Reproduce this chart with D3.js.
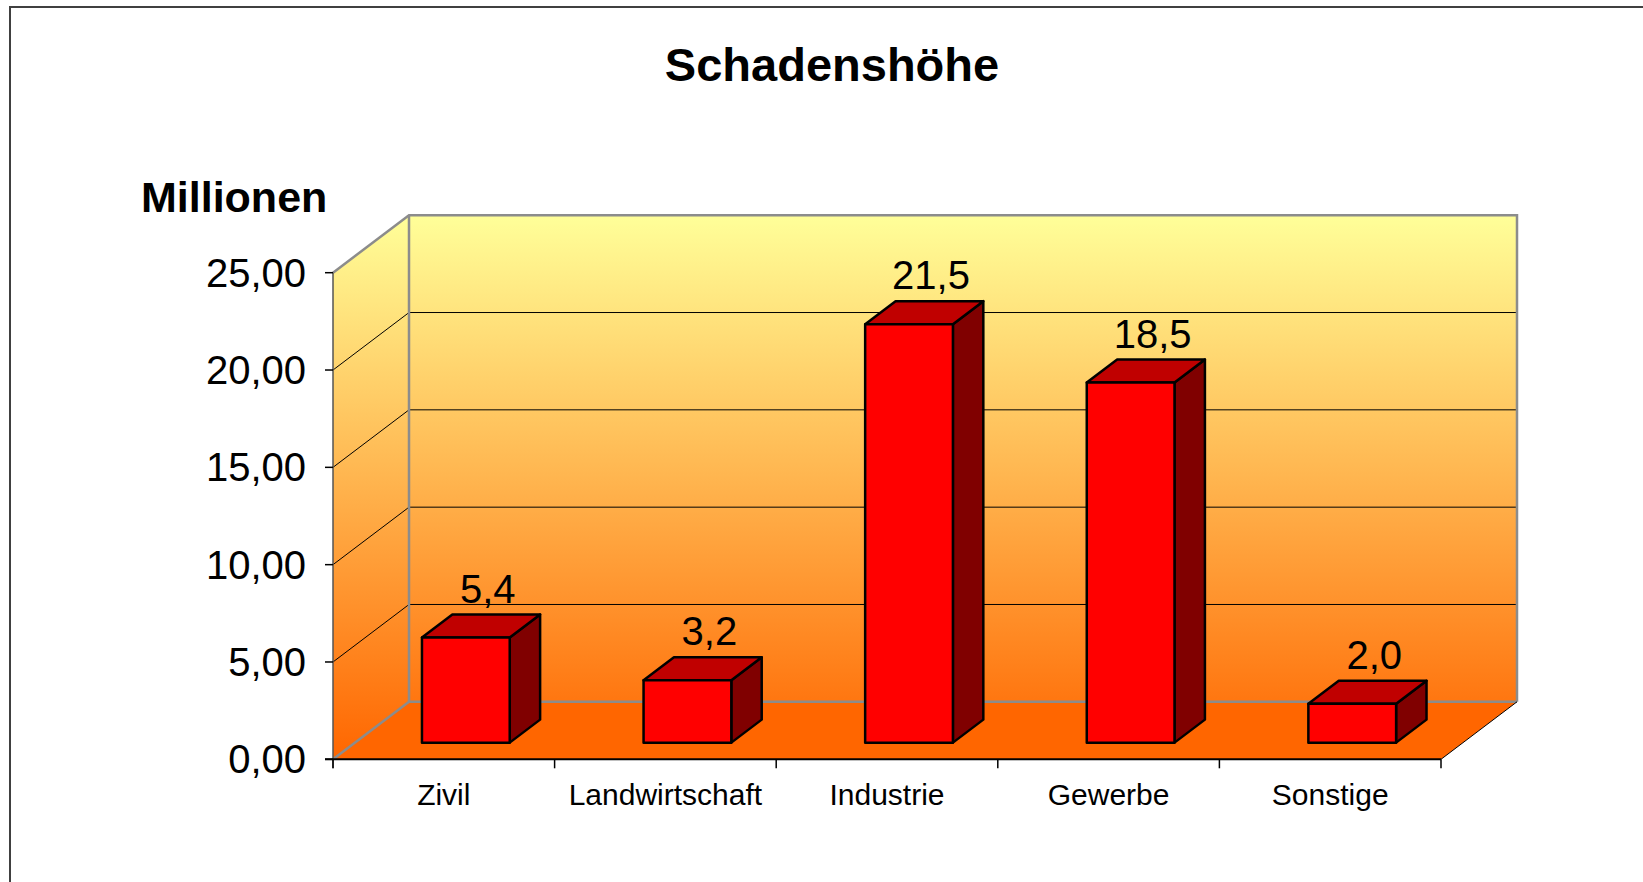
<!DOCTYPE html>
<html>
<head>
<meta charset="utf-8">
<script src="https://cdn.jsdelivr.net/npm/d3@7"></script>
<style>
  body { margin: 0; background: #fff; }
  text { font-family: Arial, "Liberation Sans", sans-serif; fill: #000; }
</style>
</head>
<body>
<svg id="chart" width="1643" height="882"></svg>
<script>
const categories = ['Zivil', 'Landwirtschaft', 'Industrie', 'Gewerbe', 'Sonstige'];
const values = [5.4, 3.2, 21.5, 18.5, 2.0];
const yTicks = [0, 5, 10, 15, 20, 25];
const title = 'Schadenshöhe';
const yTitle = 'Millionen';

const width = 1643;
const height = 882;
const plot = { left: 333, right: 1441, top: 272.7, bottom: 759.3 };
// 3d depth offset of the back wall
const DX = 76, DY = -57.5;
const barZ0 = 0.29, barZ1 = 0.69;
const barFrac = 0.396;

const de = d3.formatLocale({ decimal: ',', thousands: '.', grouping: [3], currency: ['', ' €'] });
const fmtTick = de.format('.2f');
const fmtVal = de.format('.1f');

const svg = d3.select('#chart');

const x = d3.scaleBand()
  .domain(categories)
  .range([plot.left, plot.right])
  .padding(0);

const y = d3.scaleLinear()
  .domain([0, 25])
  .range([plot.bottom, plot.top]);

const proj = (px, py, z) => [px + z * DX, py + z * DY];
const poly = pts => 'M' + pts.map(p => p.join(',')).join('L') + 'Z';

// gradient for walls
const defs = svg.append('defs');
const grad = defs.append('linearGradient')
  .attr('id', 'wall')
  .attr('gradientUnits', 'userSpaceOnUse')
  .attr('x1', 0).attr('x2', 0)
  .attr('y1', proj(0, y(25), 1)[1]).attr('y2', y(0));
grad.append('stop').attr('offset', '0%').attr('stop-color', '#FFFF99');
grad.append('stop').attr('offset', '100%').attr('stop-color', '#FF6600');

// outer frame
svg.append('path')
  .attr('d', `M10,${height} L10,7 L${width},7`)
  .attr('fill', 'none')
  .attr('stroke', '#404040')
  .attr('stroke-width', 2);

// title
svg.append('text')
  .attr('x', 832)
  .attr('y', 81)
  .attr('text-anchor', 'middle')
  .style('font-size', '47px')
  .style('font-weight', 'bold')
  .text(title);

svg.append('text')
  .attr('x', 141)
  .attr('y', 212)
  .style('font-size', '43px')
  .style('font-weight', 'bold')
  .text(yTitle);

// walls
const g = svg.append('g');
const y0 = y(0), y25 = y(25);

g.append('path')
  .attr('d', poly([proj(plot.left, y25, 1), proj(plot.right, y25, 1), proj(plot.right, y0, 1), proj(plot.left, y0, 1)]))
  .attr('fill', 'url(#wall)');

g.append('path')
  .attr('d', poly([proj(plot.left, y25, 0), proj(plot.left, y25, 1), proj(plot.left, y0, 1), proj(plot.left, y0, 0)]))
  .attr('fill', 'url(#wall)');

// gridlines
yTicks.filter(t => t > 0 && t < 25).forEach(t => {
  const a = proj(plot.left, y(t), 0);
  const b = proj(plot.left, y(t), 1);
  const c = proj(plot.right, y(t), 1);
  g.append('path')
    .attr('d', `M${a}L${b}L${c}`)
    .attr('fill', 'none')
    .attr('stroke', '#000')
    .attr('stroke-width', 1);
});

// floor
g.append('path')
  .attr('d', poly([proj(plot.left, y0, 0), proj(plot.left, y0, 1), proj(plot.right, y0, 1), proj(plot.right, y0, 0)]))
  .attr('fill', '#FF6600');

// wall edges (gray)
const edge = '#8C8C8C';
[
  [proj(plot.left, y25, 0), proj(plot.left, y25, 1), proj(plot.right, y25, 1), proj(plot.right, y0, 1)],
  [proj(plot.left, y25, 1), proj(plot.left, y0, 1)],
  [proj(plot.left, y0, 0), proj(plot.left, y0, 1), proj(plot.right, y0, 1)]
].forEach(pts => {
  g.append('path')
    .attr('d', 'M' + pts.map(p => p.join(',')).join('L'))
    .attr('fill', 'none')
    .attr('stroke', edge)
    .attr('stroke-width', 2.5);
});

// floor right edge
g.append('path')
  .attr('d', `M${proj(plot.right, y0, 0)}L${proj(plot.right, y0, 1)}`)
  .attr('stroke', '#000')
  .attr('stroke-width', 1);

// bars
const bw = x.bandwidth() * barFrac;
const bars = g.selectAll('.bar')
  .data(categories.map((c, i) => ({ c, v: values[i] })))
  .enter()
  .append('g')
  .attr('class', 'bar');

bars.each(function(d) {
  const sel = d3.select(this);
  const cx = x(d.c) + x.bandwidth() / 2;
  const xl = cx - bw / 2, xr = cx + bw / 2;
  const yb = y(0), yt = y(d.v);
  const f = (px, py) => proj(px, py, barZ0);
  const b = (px, py) => proj(px, py, barZ1);
  const st = sel => sel.attr('stroke', '#000').attr('stroke-width', 2.5).attr('stroke-linejoin', 'round');

  sel.append('path')
    .attr('d', poly([f(xr, yt), b(xr, yt), b(xr, yb), f(xr, yb)]))
    .attr('fill', '#800000').call(st);
  sel.append('path')
    .attr('d', poly([f(xl, yt), b(xl, yt), b(xr, yt), f(xr, yt)]))
    .attr('fill', '#C00000').call(st);
  sel.append('path')
    .attr('d', poly([f(xl, yt), f(xr, yt), f(xr, yb), f(xl, yb)]))
    .attr('fill', '#FF0000').call(st);

  sel.append('text')
    .attr('x', cx + 44)
    .attr('y', b(cx, yt)[1] - 12)
    .attr('text-anchor', 'middle')
    .style('font-size', '40px')
    .text(fmtVal(d.v));
});

// y axis
const yAxis = svg.append('g');
yAxis.append('line')
  .attr('x1', plot.left).attr('x2', plot.left)
  .attr('y1', y25).attr('y2', y0 + 9)
  .attr('stroke', '#555').attr('stroke-width', 1.5);
yAxis.selectAll('.tick')
  .data(yTicks)
  .enter()
  .append('g')
  .attr('class', 'tick')
  .each(function(t) {
    const s = d3.select(this);
    s.append('line')
      .attr('x1', plot.left - 8).attr('x2', plot.left)
      .attr('y1', y(t)).attr('y2', y(t))
      .attr('stroke', '#000').attr('stroke-width', 1.5);
    s.append('text')
      .attr('x', plot.left - 27)
      .attr('y', y(t))
      .attr('dy', '0.35em')
      .attr('text-anchor', 'end')
      .style('font-size', '40px')
      .text(fmtTick(t));
  });

// x axis
const xAxis = svg.append('g');
xAxis.append('line')
  .attr('x1', plot.left - 8).attr('x2', plot.right)
  .attr('y1', y0).attr('y2', y0)
  .attr('stroke', '#000').attr('stroke-width', 2);
const bounds = categories.map(c => x(c)).concat([plot.right]);
xAxis.selectAll('.xtick')
  .data(bounds)
  .enter()
  .append('line')
  .attr('x1', d => d).attr('x2', d => d)
  .attr('y1', y0).attr('y2', y0 + 9)
  .attr('stroke', '#000').attr('stroke-width', 1.5);
xAxis.selectAll('.xlabel')
  .data(categories)
  .enter()
  .append('text')
  .attr('x', d => x(d) + x.bandwidth() / 2)
  .attr('y', 805)
  .attr('text-anchor', 'middle')
  .style('font-size', '30px')
  .text(d => d);
</script>
</body>
</html>
